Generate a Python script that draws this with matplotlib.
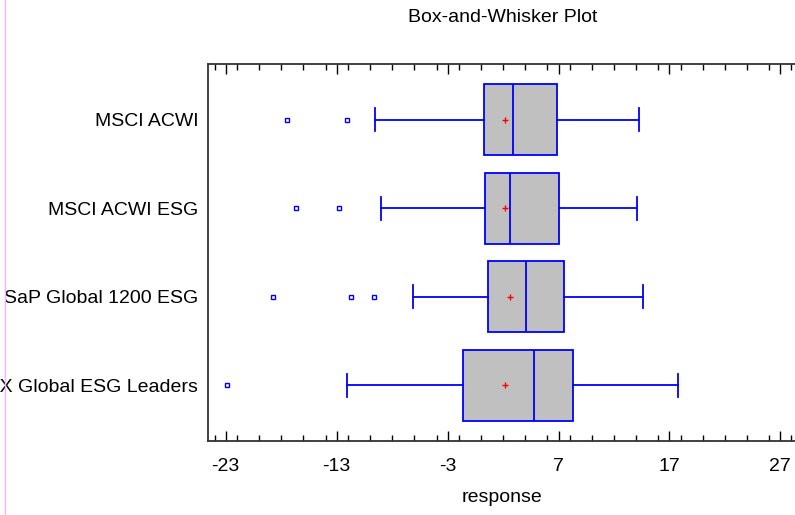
import matplotlib
matplotlib.use("Agg")
from matplotlib import pyplot as plt
from matplotlib.lines import Line2D
from matplotlib.ticker import MultipleLocator, FixedLocator

# data (response values)
labels = ["MSCI ACWI", "MSCI ACWI ESG", "SaP Global 1200 ESG", "STOXX Global ESG Leaders"]
q1 = [0.25, 0.40, 0.65, -1.60]
q3 = [6.85, 7.05, 7.45, 8.30]
median = [2.90, 2.65, 4.10, 4.75]
mean = [2.15, 2.15, 2.60, 2.15]
whis_lo = [-9.50, -9.00, -6.10, -12.05]
whis_hi = [14.30, 14.10, 14.65, 17.80]
outliers = [[-17.45, -12.1], [-16.65, -12.8], [-18.75, -11.7, -9.65], [-22.85]]
xticks = [-23, -13, -3, 7, 17, 27]

plt.rcParams['font.family'] = ['Liberation Sans', 'DejaVu Sans']
fs = 14

fig = plt.figure(figsize=(7.95, 5.15), dpi=100)
ax = fig.add_axes([208 / 795, 1 - 441 / 515, 589 / 795, 377 / 515])

stats = []
for i in range(len(labels)):
    stats.append(dict(label=labels[i], q1=q1[i], q3=q3[i], med=median[i], mean=mean[i],
                      whislo=whis_lo[i], whishi=whis_hi[i], fliers=outliers[i]))

blue = "#0000ff"
ax.bxp(stats, positions=range(1, len(labels) + 1), orientation="horizontal",
       widths=0.8, capwidths=0.26, patch_artist=True, showmeans=True,
       boxprops=dict(facecolor="#c0c0c0", edgecolor=blue, linewidth=1.3),
       medianprops=dict(color=blue, linewidth=1.3),
       whiskerprops=dict(color=blue, linewidth=1.3),
       capprops=dict(color=blue, linewidth=1.3),
       meanprops=dict(marker="+", markeredgecolor="red", markersize=5, markeredgewidth=1.0),
       flierprops=dict(marker="s", markerfacecolor="white", markeredgecolor=blue,
                       markersize=3.5, markeredgewidth=1.0))

ax.set_xlim(-24.6, 28.5)
ax.set_ylim(4.63, 0.37)
ax.xaxis.set_major_locator(FixedLocator(xticks))
ax.xaxis.set_minor_locator(MultipleLocator(2))
ax.set_xticklabels([str(t) for t in xticks], fontsize=fs)
ax.tick_params(axis="x", which="major", direction="in", length=7, width=1, top=True, pad=12)
ax.tick_params(axis="x", which="minor", direction="in", length=4, width=1, top=True)
ax.tick_params(axis="y", length=0, pad=7, labelsize=fs)
for s in ax.spines.values():
    s.set_linewidth(1.3)
    s.set_color("#333333")

fig.text(503 / 795, 1 - 17 / 515, "Box-and-Whisker Plot", ha="center", va="center", fontsize=fs)
fig.text(502 / 795, 1 - 498 / 515, "response", ha="center", va="center", fontsize=fs)

# thin pink border line at the left of the picture
fig.add_artist(Line2D([5 / 795, 5 / 795], [0, 1], transform=fig.transFigure, color="#ffb0ff", linewidth=1))

fig.savefig("out.png", dpi=100)
